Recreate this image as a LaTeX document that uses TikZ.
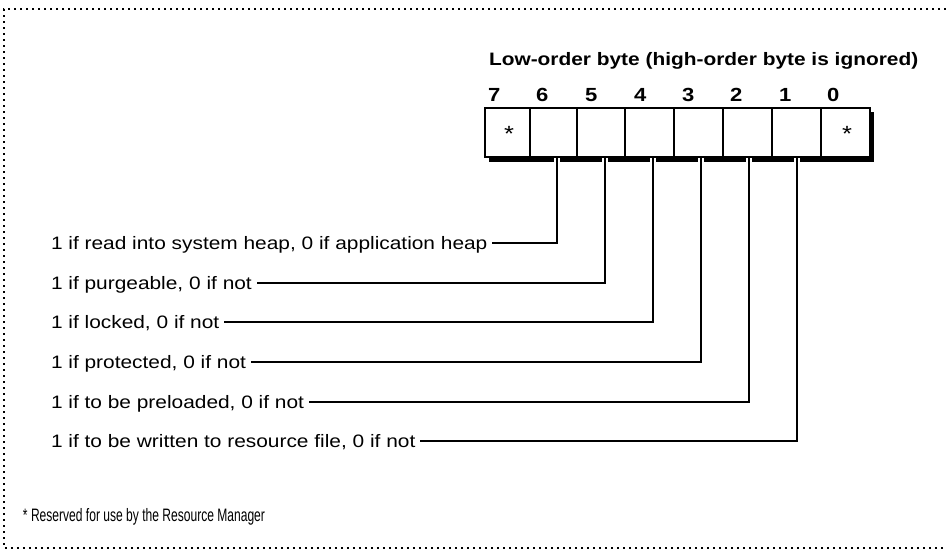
\documentclass[tikz,border=0pt]{standalone}
\usepackage{fontspec}
\setmainfont[FakeStretch=1.16]{Liberation Sans}
\newfontfamily\notefont[FakeStretch=0.67]{Liberation Sans}
\begin{document}
\begin{tikzpicture}[x=1pt,y=-1pt,line width=2pt,
  lbl/.style={anchor=west,inner sep=0pt,text height=12pt,text depth=0pt,
              font=\fontsize{18}{18}\selectfont},
  digit/.style={anchor=west,inner sep=0pt,font=\fontsize{19}{19}\selectfont\bfseries},
  starmark/.style={inner sep=0pt,font=\fontsize{22}{22}\selectfont},
  frame/.style={line width=2pt,dash pattern=on 2pt off 4pt},
  lead/.style={line width=2pt}]
\useasboundingbox (0,0) rectangle (946,560);

% dotted frame (open on the right)
\draw[frame] (946,9) -- (4,9) -- (4,548) -- (946,548);

% heading
\node[anchor=west,inner sep=0pt,font=\fontsize{18}{18}\selectfont\bfseries]
  (head) at (488,61) {Low-order byte (high-order byte is ignored)};

% bit numbers
\foreach \n/\x in {7/487,6/535,5/584,4/633,3/681,2/729,1/778,0/826}
  \node[digit] (d\n) at (\x,95) {\n};

% register box with drop shadow
\fill (489,112) rectangle (874,162);
\filldraw[fill=white] (485,108) rectangle (870,157);
\foreach \x in {530,577,625,674,723,772,821}
  \draw (\x,108) -- (\x,157);
\node[starmark] (s7) at (509,134) {*};
\node[starmark] (s0) at (847,134) {*};

% tap points under bits 6..1
\foreach \n/\x in {6/557,5/605,4/653,3/701,2/749,1/797}{
  \fill[white] (\x-3.2,158.2) rectangle (\x+3.2,162.5);
  \coordinate (b\n) at (\x,157);
}

% flag descriptions
\node[lbl] (l6) at (50,243) {1 if read into system heap, 0 if application heap};
\node[lbl] (l5) at (50,283) {1 if purgeable, 0 if not};
\node[lbl] (l4) at (50,322) {1 if locked, 0 if not};
\node[lbl] (l3) at (50,362) {1 if protected, 0 if not};
\node[lbl] (l2) at (50,402) {1 if to be preloaded, 0 if not};
\node[lbl] (l1) at (50,441) {1 if to be written to resource file, 0 if not};

\foreach \n in {6,5,4,3,2,1}
  \draw[lead] (b\n) |- ([xshift=4pt]l\n.east);

% footnote
\node[anchor=west,inner sep=0pt,font=\notefont\fontsize{18}{18}\selectfont]
  (note) at (22,517) {* Reserved for use by the Resource Manager};
\end{tikzpicture}
\end{document}
